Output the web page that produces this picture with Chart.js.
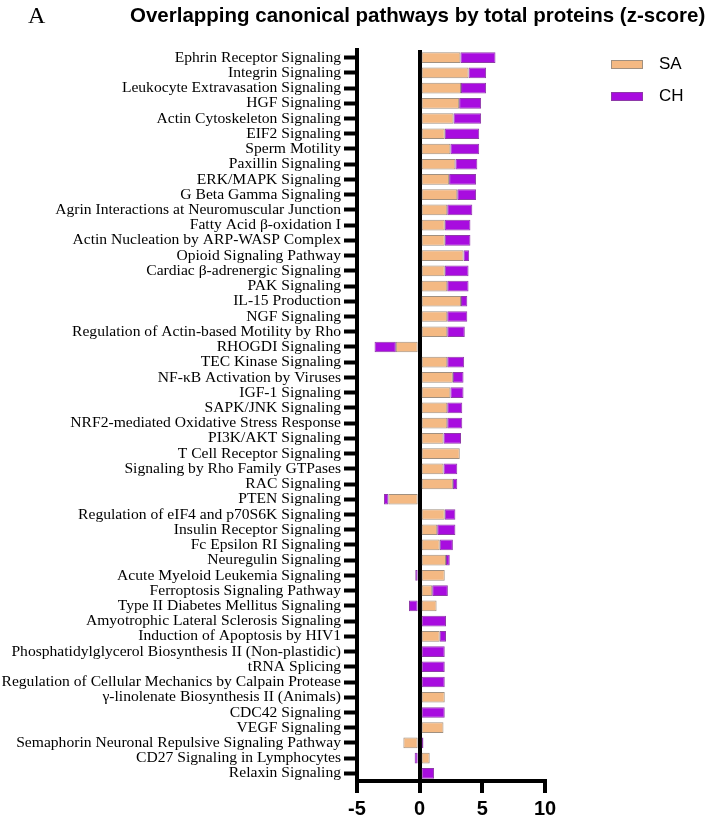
<!DOCTYPE html>
<html>
<head>
<meta charset="utf-8">
<script src="https://cdn.jsdelivr.net/npm/chart.js@4/dist/chart.umd.min.js"></script>
<style>
  body { margin: 0; background: #fff; }
  #wrap { position: relative; width: 708px; height: 817px; }
  #letra { position: absolute; left: 28px; top: 2px; font: 24px "Liberation Serif", serif; }
  #titulo { position: absolute; left: 130px; top: 3px; font: bold 20.5px "Liberation Sans", Arial, sans-serif; white-space: nowrap; }
  .leg { position: absolute; left: 611px; font: 17px "Liberation Sans", Arial, sans-serif; }
  .leg span { display: inline-block; width: 30px; height: 7px; margin-right: 16px; vertical-align: middle; }
</style>
</head>
<body>
<div id="wrap">
  <canvas id="grafico" width="708" height="817"></canvas>
  <div id="letra">A</div>
  <div id="titulo">Overlapping canonical pathways by total proteins (z-score)</div>
  <div class="leg" style="top:54px"><span style="background:#F4B983;border:1px solid #A09080"></span>SA</div>
  <div class="leg" style="top:86px"><span style="background:#A80CDF;border:1px solid #8E3AA8"></span>CH</div>
</div>
<script>
// vias canonicas
var vias = [
  "Ephrin Receptor Signaling",
  "Integrin Signaling",
  "Leukocyte Extravasation Signaling",
  "HGF Signaling",
  "Actin Cytoskeleton Signaling",
  "EIF2 Signaling",
  "Sperm Motility",
  "Paxillin Signaling",
  "ERK/MAPK Signaling",
  "G Beta Gamma Signaling",
  "Agrin Interactions at Neuromuscular Junction",
  "Fatty Acid β-oxidation I",
  "Actin Nucleation by ARP-WASP Complex",
  "Opioid Signaling Pathway",
  "Cardiac β-adrenergic Signaling",
  "PAK Signaling",
  "IL-15 Production",
  "NGF Signaling",
  "Regulation of Actin-based Motility by Rho",
  "RHOGDI Signaling",
  "TEC Kinase Signaling",
  "NF-κB Activation by Viruses",
  "IGF-1 Signaling",
  "SAPK/JNK Signaling",
  "NRF2-mediated Oxidative Stress Response",
  "PI3K/AKT Signaling",
  "T Cell Receptor Signaling",
  "Signaling by Rho Family GTPases",
  "RAC Signaling",
  "PTEN Signaling",
  "Regulation of eIF4 and p70S6K Signaling",
  "Insulin Receptor Signaling",
  "Fc Epsilon RI Signaling",
  "Neuregulin Signaling",
  "Acute Myeloid Leukemia Signaling",
  "Ferroptosis Signaling Pathway",
  "Type II Diabetes Mellitus Signaling",
  "Amyotrophic Lateral Sclerosis Signaling",
  "Induction of Apoptosis by HIV1",
  "Phosphatidylglycerol Biosynthesis II (Non-plastidic)",
  "tRNA Splicing",
  "Regulation of Cellular Mechanics by Calpain Protease",
  "γ-linolenate Biosynthesis II (Animals)",
  "CDC42 Signaling",
  "VEGF Signaling",
  "Semaphorin Neuronal Repulsive Signaling Pathway",
  "CD27 Signaling in Lymphocytes",
  "Relaxin Signaling"
];

// z-score SA (null = sem barra)
var zSA = [3.25, 3.9, 3.3, 3.15, 2.7, 2.0, 2.45, 2.85, 2.35, 3.0,
  2.2, 2.0, 2.0, 3.5, 2.0, 2.2, 3.3, 2.2, 2.2, -1.9,
  2.2, 2.65, 2.45, 2.2, 2.2, 1.9, 3.2, 1.9, 2.65, -2.5,
  2.0, 1.4, 1.6, 2.1, 2.0, 1.0, 1.35, null, 1.6, null,
  null, null, 2.0, null, 1.9, -1.3, 0.8, null];

// z-score CH
var zCH = [2.8, 1.4, 2.0, 1.75, 2.2, 2.75, 2.3, 1.75, 2.15, 1.5,
  2.0, 2.05, 2.05, 0.45, 1.9, 1.7, 0.5, 1.6, 1.4, -1.7,
  1.35, 0.85, 1.05, 1.2, 1.2, 1.4, null, 1.1, 0.35, -0.35,
  0.85, 1.45, 1.05, 0.3, -0.35, 1.25, -0.85, 2.1, 0.5, 2.0,
  2.0, 2.0, null, 2.0, null, 0.3, -0.4, 1.15];

var ticksX = [-5, 0, 5, 10];

var ctx = document.getElementById("grafico").getContext("2d");
var myChart = new Chart(ctx, {
  type: "bar",
  data: {
    labels: vias,
    datasets: [
      {
        label: "SA",
        data: zSA,
        backgroundColor: "#F4B983",
        borderColor: "#A09080",
        borderWidth: 1,
        borderSkipped: false,
        barPercentage: 0.7,
        categoryPercentage: 1,
      },
      {
        label: "CH",
        data: zCH,
        backgroundColor: "#A80CDF",
        borderColor: "#8E3AA8",
        borderWidth: 1,
        borderSkipped: false,
        barPercentage: 0.7,
        categoryPercentage: 1,
      },
    ],
  },
  options: {
    indexAxis: "y",
    responsive: false,
    animation: false,
    layout: { padding: { top: 50, right: 163, left: 0, bottom: 0 } },
    plugins: {
      legend: { display: false },
      tooltip: { enabled: false },
    },
    scales: {
      x: {
        stacked: true,
        min: -5,
        max: 10,
        afterBuildTicks: function (scale) {
          scale.ticks = ticksX.map(function (v) { return { value: v }; });
        },
        afterFit: function (scale) { scale.height = 36; },
        border: { display: true, width: 4, color: "#000" },
        grid: {
          drawOnChartArea: true,
          color: function (c) { return c.tick && c.tick.value === 0 ? "#000" : "rgba(0,0,0,0)"; },
          lineWidth: 4,
          tickColor: "#000",
          tickWidth: 4,
          tickLength: 12,
        },
        ticks: {
          color: "#000",
          padding: 4,
          font: { family: "Liberation Sans", size: 20, weight: "bold" },
        },
      },
      y: {
        stacked: true,
        afterFit: function (scale) { scale.width = 357; },
        border: { display: true, width: 4, color: "#000" },
        grid: {
          offset: false,
          drawOnChartArea: false,
          tickColor: "#000",
          tickWidth: 4,
          tickLength: 13,
        },
        ticks: {
          autoSkip: false,
          color: "#000",
          padding: 3,
          font: { family: "Liberation Serif", size: 15.6 },
        },
      },
    },
  },
});
</script>
</body>
</html>
